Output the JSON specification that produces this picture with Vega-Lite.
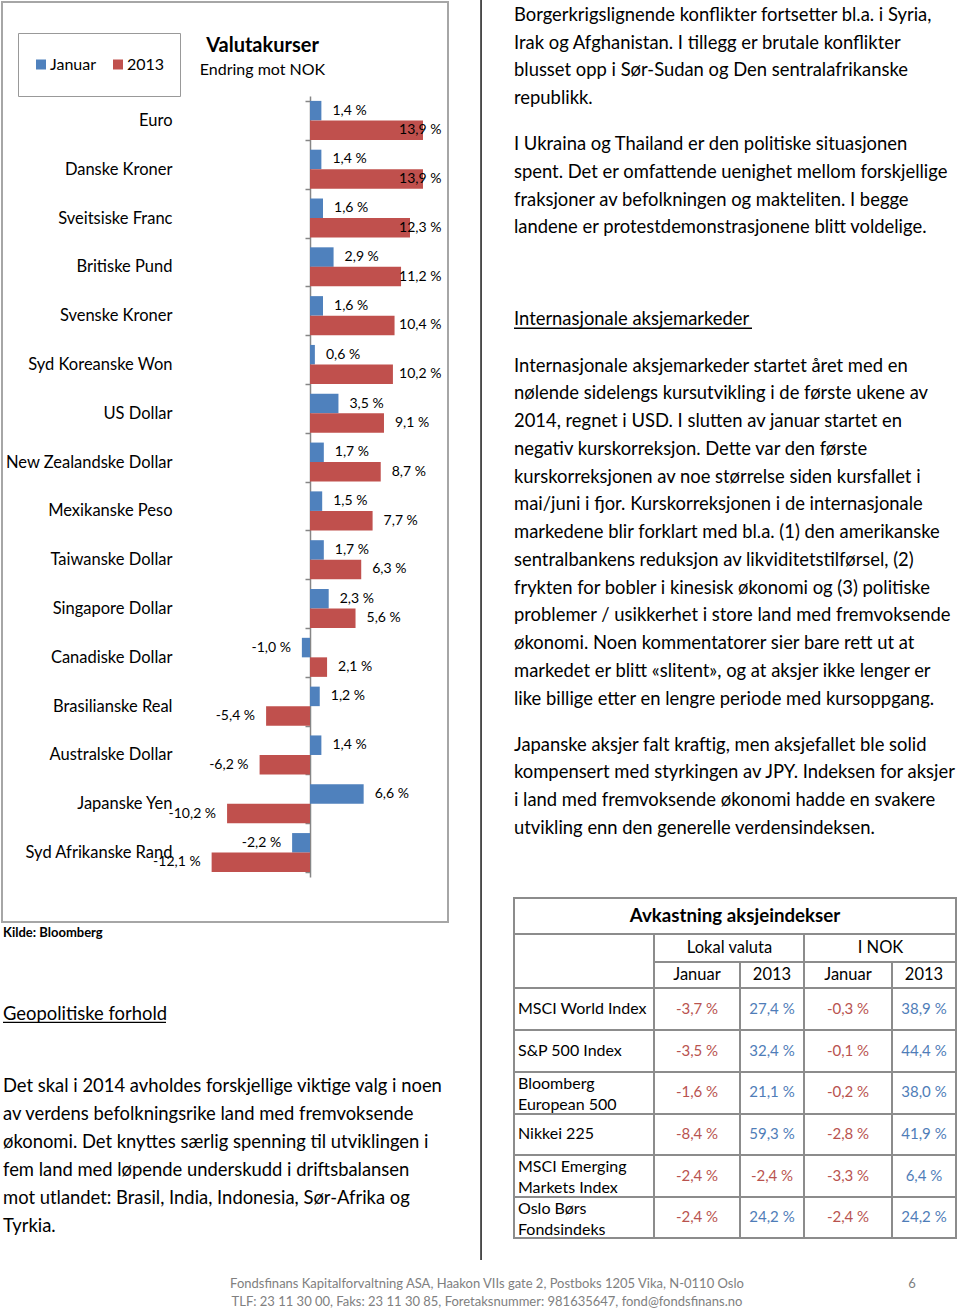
{
  "$schema": "https://vega.github.io/schema/vega-lite/v6.json",
  "width": 960,
  "height": 1309,
  "autosize": {"type": "none"},
  "padding": 0,
  "background": "white",
  "config": {
    "view": {"stroke": null},
    "font": "Lato",
    "locale": {
      "number": {"decimal": ",", "thousands": " ", "grouping": [3], "currency": ["", " kr"], "percent": " %", "minus": "-"}
    }
  },
  "title": {
    "text": "Valutakurser",
    "subtitle": "Endring mot NOK",
    "anchor": "middle",
    "frame": "group",
    "dx": -217.5,
    "dy": 86,
    "offset": 0,
    "font": "Lato",
    "fontSize": 20,
    "fontWeight": "bold",
    "color": "#000000",
    "subtitleFont": "Lato",
    "subtitleFontSize": 16,
    "subtitleColor": "#000000",
    "subtitlePadding": 6
  },
  "resolve": {
    "scale": {"x": "independent", "y": "independent", "yOffset": "independent", "color": "independent"},
    "axis": {"x": "independent", "y": "independent"}
  },
  "layer": [
    {
      "data": {"values": [{"ramme": "Valutakurser"}]},
      "mark": {"type": "rect", "fillOpacity": 0, "stroke": "#a6a6a6", "strokeWidth": 2},
      "encoding": {
        "x": {"field": "ramme", "type": "nominal", "scale": {"type": "band", "range": [2, 448], "paddingInner": 0, "paddingOuter": 0}, "axis": null},
        "y": {"field": "ramme", "type": "nominal", "scale": {"type": "band", "range": [2, 922], "paddingInner": 0, "paddingOuter": 0}, "axis": null}
      }
    },
    {
      "data": {"values": [{"skille": "spalter"}]},
      "mark": {"type": "rect", "color": "#1a1a1a"},
      "encoding": {
        "x": {"field": "skille", "type": "nominal", "scale": {"type": "band", "range": [480.3, 481.8], "paddingInner": 0, "paddingOuter": 0}, "axis": null},
        "y": {"field": "skille", "type": "nominal", "scale": {"type": "band", "range": [0, 1260], "paddingInner": 0, "paddingOuter": 0}, "axis": null}
      }
    },
    {
      "data": {"values": [
        {"valuta": "Euro", "Januar": 0.014, "2013": 0.139},
        {"valuta": "Danske Kroner", "Januar": 0.014, "2013": 0.139},
        {"valuta": "Sveitsiske Franc", "Januar": 0.016, "2013": 0.123},
        {"valuta": "Britiske Pund", "Januar": 0.029, "2013": 0.112},
        {"valuta": "Svenske Kroner", "Januar": 0.016, "2013": 0.104},
        {"valuta": "Syd Koreanske Won", "Januar": 0.006, "2013": 0.102},
        {"valuta": "US Dollar", "Januar": 0.035, "2013": 0.091},
        {"valuta": "New Zealandske Dollar", "Januar": 0.017, "2013": 0.087},
        {"valuta": "Mexikanske Peso", "Januar": 0.015, "2013": 0.077},
        {"valuta": "Taiwanske Dollar", "Januar": 0.017, "2013": 0.063},
        {"valuta": "Singapore Dollar", "Januar": 0.023, "2013": 0.056},
        {"valuta": "Canadiske Dollar", "Januar": -0.010, "2013": 0.021},
        {"valuta": "Brasilianske Real", "Januar": 0.012, "2013": -0.054},
        {"valuta": "Australske Dollar", "Januar": 0.014, "2013": -0.062},
        {"valuta": "Japanske Yen", "Januar": 0.066, "2013": -0.102},
        {"valuta": "Syd Afrikanske Rand", "Januar": -0.022, "2013": -0.121}
      ]},
      "transform": [{"fold": ["Januar", "2013"], "as": ["periode", "endring"]}],
      "encoding": {
        "y": {
          "field": "valuta",
          "type": "nominal",
          "scale": {
            "domain": ["Euro", "Danske Kroner", "Sveitsiske Franc", "Britiske Pund", "Svenske Kroner", "Syd Koreanske Won", "US Dollar", "New Zealandske Dollar", "Mexikanske Peso", "Taiwanske Dollar", "Singapore Dollar", "Canadiske Dollar", "Brasilianske Real", "Australske Dollar", "Japanske Yen", "Syd Afrikanske Rand"],
            "range": [96, 877],
            "paddingInner": 0.2,
            "paddingOuter": 0.1
          },
          "axis": {
            "orient": "left",
            "offset": -310,
            "title": null,
            "grid": false,
            "domainColor": "#868686",
            "domainWidth": 1.5,
            "tickColor": "#868686",
            "tickWidth": 1.5,
            "tickSize": 5,
            "tickBand": "extent",
            "labelPadding": 133,
            "labelFont": "Lato",
            "labelFontSize": 16.5,
            "labelColor": "#000000",
            "labelLimit": 300
          }
        },
        "yOffset": {"field": "periode", "type": "nominal", "scale": {"domain": ["Januar", "2013"], "paddingInner": 0, "paddingOuter": 0}}
      },
      "layer": [
        {
          "mark": {"type": "bar"},
          "encoding": {
            "x": {"field": "endring", "type": "quantitative", "scale": {"domain": [-0.15, 0.15], "range": [188.05, 431.95], "zero": false, "nice": false}, "axis": null},
            "color": {
              "field": "periode",
              "type": "nominal",
              "scale": {"domain": ["Januar", "2013"], "range": ["#4F81BD", "#C0504D"]},
              "legend": {
                "orient": "none",
                "legendX": 18,
                "legendY": 33,
                "direction": "horizontal",
                "title": null,
                "symbolType": "square",
                "symbolSize": 100,
                "symbolStrokeWidth": 0,
                "labelFont": "Lato",
                "labelFontSize": 16,
                "labelColor": "#000000",
                "labelOffset": 1,
                "columnPadding": 13,
                "padding": 15,
                "clipHeight": 33,
                "strokeColor": "#999999"
              }
            }
          }
        },
        {
          "transform": [{"filter": "datum.endring >= 0"}],
          "mark": {"type": "text", "align": "left", "baseline": "middle", "dx": 11, "font": "Lato", "fontSize": 14, "color": "#000000"},
          "encoding": {
            "x": {"field": "endring", "type": "quantitative", "scale": {"domain": [-0.15, 0.096], "range": [188.05, 388.05], "clamp": true, "zero": false, "nice": false}, "axis": null},
            "text": {"field": "endring", "type": "quantitative", "format": ".1%"}
          }
        },
        {
          "transform": [{"filter": "datum.endring < 0"}],
          "mark": {"type": "text", "align": "right", "baseline": "middle", "dx": -11, "font": "Lato", "fontSize": 14, "color": "#000000"},
          "encoding": {
            "x": {"field": "endring", "type": "quantitative", "scale": {"domain": [-0.15, 0.15], "range": [188.05, 431.95], "zero": false, "nice": false}, "axis": null},
            "text": {"field": "endring", "type": "quantitative", "format": ".1%"}
          }
        }
      ],
      "resolve": {"scale": {"x": "independent"}}
    },
    {
      "data": {"values": [{"kilde": "Kilde: Bloomberg"}]},
      "mark": {"type": "text", "align": "left", "baseline": "middle", "font": "Lato", "fontSize": 13, "fontWeight": "bold", "color": "#000000"},
      "encoding": {
        "x": {"field": "kilde", "type": "nominal", "scale": {"type": "point", "range": [3, 3]}, "axis": null},
        "y": {"field": "kilde", "type": "nominal", "scale": {"type": "point", "range": [933, 933]}, "axis": null},
        "text": {"field": "kilde"}
      }
    },
    {
      "data": {"values": [
        {"spalte": "høyre", "linje": 0, "tekst": "Borgerkrigslignende konflikter fortsetter bl.a. i Syria,"},
        {"spalte": "høyre", "linje": 1, "tekst": "Irak og Afghanistan. I tillegg er brutale konflikter"},
        {"spalte": "høyre", "linje": 2, "tekst": "blusset opp i Sør-Sudan og Den sentralafrikanske"},
        {"spalte": "høyre", "linje": 3, "tekst": "republikk."},
        {"spalte": "høyre", "linje": 4, "tekst": "I Ukraina og Thailand er den politiske situasjonen"},
        {"spalte": "høyre", "linje": 5, "tekst": "spent. Det er omfattende uenighet mellom forskjellige"},
        {"spalte": "høyre", "linje": 6, "tekst": "fraksjoner av befolkningen og makteliten. I begge"},
        {"spalte": "høyre", "linje": 7, "tekst": "landene er protestdemonstrasjonene blitt voldelige."},
        {"spalte": "høyre", "linje": 8, "tekst": "Internasjonale aksjemarkeder"},
        {"spalte": "høyre", "linje": 9, "tekst": "Internasjonale aksjemarkeder startet året med en"},
        {"spalte": "høyre", "linje": 10, "tekst": "nølende sidelengs kursutvikling i de første ukene av"},
        {"spalte": "høyre", "linje": 11, "tekst": "2014, regnet i USD. I slutten av januar startet en"},
        {"spalte": "høyre", "linje": 12, "tekst": "negativ kurskorreksjon. Dette var den første"},
        {"spalte": "høyre", "linje": 13, "tekst": "kurskorreksjonen av noe størrelse siden kursfallet i"},
        {"spalte": "høyre", "linje": 14, "tekst": "mai/juni i fjor. Kurskorreksjonen i de internasjonale"},
        {"spalte": "høyre", "linje": 15, "tekst": "markedene blir forklart med bl.a. (1) den amerikanske"},
        {"spalte": "høyre", "linje": 16, "tekst": "sentralbankens reduksjon av likviditetstilførsel, (2)"},
        {"spalte": "høyre", "linje": 17, "tekst": "frykten for bobler i kinesisk økonomi og (3) politiske"},
        {"spalte": "høyre", "linje": 18, "tekst": "problemer / usikkerhet i store land med fremvoksende"},
        {"spalte": "høyre", "linje": 19, "tekst": "økonomi. Noen kommentatorer sier bare rett ut at"},
        {"spalte": "høyre", "linje": 20, "tekst": "markedet er blitt «slitent», og at aksjer ikke lenger er"},
        {"spalte": "høyre", "linje": 21, "tekst": "like billige etter en lengre periode med kursoppgang."},
        {"spalte": "høyre", "linje": 22, "tekst": "Japanske aksjer falt kraftig, men aksjefallet ble solid"},
        {"spalte": "høyre", "linje": 23, "tekst": "kompensert med styrkingen av JPY. Indeksen for aksjer"},
        {"spalte": "høyre", "linje": 24, "tekst": "i land med fremvoksende økonomi hadde en svakere"},
        {"spalte": "høyre", "linje": 25, "tekst": "utvikling enn den generelle verdensindeksen."},
        {"spalte": "venstre", "linje": 26, "tekst": "Geopolitiske forhold"},
        {"spalte": "venstre", "linje": 27, "tekst": "Det skal i 2014 avholdes forskjellige viktige valg i noen"},
        {"spalte": "venstre", "linje": 28, "tekst": "av verdens befolkningsrike land med fremvoksende"},
        {"spalte": "venstre", "linje": 29, "tekst": "økonomi. Det knyttes særlig spenning til utviklingen i"},
        {"spalte": "venstre", "linje": 30, "tekst": "fem land med løpende underskudd i driftsbalansen"},
        {"spalte": "venstre", "linje": 31, "tekst": "mot utlandet: Brasil, India, Indonesia, Sør-Afrika og"},
        {"spalte": "venstre", "linje": 32, "tekst": "Tyrkia."}
      ]},
      "mark": {"type": "text", "align": "left", "baseline": "middle", "font": "Lato", "fontSize": 18.4, "color": "#000000"},
      "encoding": {
        "x": {"field": "spalte", "type": "nominal", "scale": {"type": "point", "domain": ["venstre", "høyre"], "range": [3, 514], "padding": 0}, "axis": null},
        "y": {"field": "linje", "type": "quantitative", "scale": {"domain": [0, 3, 4, 7, 8, 9, 21, 22, 25, 26, 27, 32], "range": [14.8, 98.05, 144.1, 227.35, 319.4, 365.5, 698.5, 744.55, 827.8, 1014, 1086, 1226], "zero": false, "nice": false}, "axis": null},
        "text": {"field": "tekst"}
      }
    },
    {
      "data": {"values": [{"overskrift": "Internasjonale aksjemarkeder"}]},
      "mark": {"type": "rect", "color": "#000000"},
      "encoding": {
        "x": {"field": "overskrift", "type": "nominal", "scale": {"type": "band", "range": [514, 752], "paddingInner": 0, "paddingOuter": 0}, "axis": null},
        "y": {"field": "overskrift", "type": "nominal", "scale": {"type": "band", "range": [327.6, 328.9], "paddingInner": 0, "paddingOuter": 0}, "axis": null}
      }
    },
    {
      "data": {"values": [{"overskrift": "Geopolitiske forhold"}]},
      "mark": {"type": "rect", "color": "#000000"},
      "encoding": {
        "x": {"field": "overskrift", "type": "nominal", "scale": {"type": "band", "range": [3, 166], "paddingInner": 0, "paddingOuter": 0}, "axis": null},
        "y": {"field": "overskrift", "type": "nominal", "scale": {"type": "band", "range": [1021.7, 1023], "paddingInner": 0, "paddingOuter": 0}, "axis": null}
      }
    },
    {
      "data": {"values": [
        {"del": "tittel", "r0": 0, "r1": 1, "c0": 0, "c1": 5},
        {"del": "tom", "r0": 1, "r1": 3, "c0": 0, "c1": 1},
        {"del": "Lokal valuta", "r0": 1, "r1": 2, "c0": 1, "c1": 3},
        {"del": "I NOK", "r0": 1, "r1": 2, "c0": 3, "c1": 5},
        {"del": "Lokal Januar", "r0": 2, "r1": 3, "c0": 1, "c1": 2},
        {"del": "Lokal 2013", "r0": 2, "r1": 3, "c0": 2, "c1": 3},
        {"del": "NOK Januar", "r0": 2, "r1": 3, "c0": 3, "c1": 4},
        {"del": "NOK 2013", "r0": 2, "r1": 3, "c0": 4, "c1": 5},
        {"del": "kolonne indeks", "r0": 3, "r1": 9, "c0": 0, "c1": 1},
        {"del": "kolonne 1", "r0": 3, "r1": 9, "c0": 1, "c1": 2},
        {"del": "kolonne 2", "r0": 3, "r1": 9, "c0": 2, "c1": 3},
        {"del": "kolonne 3", "r0": 3, "r1": 9, "c0": 3, "c1": 4},
        {"del": "kolonne 4", "r0": 3, "r1": 9, "c0": 4, "c1": 5},
        {"del": "rad 1", "r0": 3, "r1": 4, "c0": 0, "c1": 5},
        {"del": "rad 2", "r0": 4, "r1": 5, "c0": 0, "c1": 5},
        {"del": "rad 3", "r0": 5, "r1": 6, "c0": 0, "c1": 5},
        {"del": "rad 4", "r0": 6, "r1": 7, "c0": 0, "c1": 5},
        {"del": "rad 5", "r0": 7, "r1": 8, "c0": 0, "c1": 5},
        {"del": "rad 6", "r0": 8, "r1": 9, "c0": 0, "c1": 5}
      ]},
      "mark": {"type": "rect", "fillOpacity": 0, "stroke": "#8c8c8c", "strokeWidth": 2},
      "encoding": {
        "x": {"field": "c0", "type": "quantitative", "scale": {"domain": [0, 1, 2, 3, 4, 5], "range": [514, 654, 740, 804, 892, 956], "zero": false, "nice": false}, "axis": null},
        "x2": {"field": "c1"},
        "y": {"field": "r0", "type": "quantitative", "scale": {"domain": [0, 1, 2, 3, 4, 5, 6, 7, 8, 9], "range": [898, 934, 962, 988, 1030, 1072, 1114, 1155, 1197, 1238], "zero": false, "nice": false}, "axis": null},
        "y2": {"field": "r1"}
      }
    },
    {
      "data": {"values": [{"tittel": "Avkastning aksjeindekser"}]},
      "mark": {"type": "text", "align": "center", "baseline": "middle", "font": "Lato", "fontSize": 18.7, "fontWeight": "bold", "color": "#000000"},
      "encoding": {
        "x": {"field": "tittel", "type": "nominal", "scale": {"type": "band", "range": [514, 956], "paddingInner": 0, "paddingOuter": 0}, "axis": null},
        "y": {"field": "tittel", "type": "nominal", "scale": {"type": "band", "range": [898, 934], "paddingInner": 0, "paddingOuter": 0}, "axis": null},
        "text": {"field": "tittel"}
      }
    },
    {
      "data": {"values": [{"valuta": "Lokal valuta"}, {"valuta": "I NOK"}]},
      "mark": {"type": "text", "align": "center", "baseline": "middle", "font": "Lato", "fontSize": 16.5, "color": "#000000"},
      "encoding": {
        "x": {"field": "valuta", "type": "nominal", "scale": {"type": "band", "domain": ["Lokal valuta", "I NOK"], "range": [654, 956], "paddingInner": 0, "paddingOuter": 0}, "axis": null},
        "y": {"field": "valuta", "type": "nominal", "scale": {"type": "point", "range": [948, 948]}, "axis": null},
        "text": {"field": "valuta"}
      }
    },
    {
      "data": {"values": [
        {"kol": 1, "periode": "Januar"},
        {"kol": 2, "periode": "2013"},
        {"kol": 3, "periode": "Januar"},
        {"kol": 4, "periode": "2013"}
      ]},
      "mark": {"type": "text", "align": "center", "baseline": "middle", "font": "Lato", "fontSize": 16.5, "color": "#000000"},
      "encoding": {
        "x": {"field": "kol", "type": "quantitative", "scale": {"domain": [1, 2, 3, 4], "range": [697, 772, 848, 924], "zero": false, "nice": false}, "axis": null},
        "y": {"field": "periode", "type": "nominal", "scale": {"type": "point", "range": [975, 975]}, "axis": null},
        "text": {"field": "periode"}
      }
    },
    {
      "data": {"name": "indekser", "values": [
        {"indeks": "MSCI World Index", "etikett": ["MSCI World Index"]},
        {"indeks": "S&P 500 Index", "etikett": ["S&P 500 Index"]},
        {"indeks": "Bloomberg European 500", "etikett": ["Bloomberg", "European 500"]},
        {"indeks": "Nikkei 225", "etikett": ["Nikkei 225"]},
        {"indeks": "MSCI Emerging Markets Index", "etikett": ["MSCI Emerging", "Markets Index"]},
        {"indeks": "Oslo Børs Fondsindeks", "etikett": ["Oslo Børs", "Fondsindeks"]}
      ]},
      "encoding": {
        "x": {"field": "indeks", "type": "nominal", "scale": {"type": "point", "range": [518, 518]}, "axis": null},
        "y": {"field": "indeks", "type": "nominal", "scale": {"type": "band", "domain": ["MSCI World Index", "S&P 500 Index", "Bloomberg European 500", "Nikkei 225", "MSCI Emerging Markets Index", "Oslo Børs Fondsindeks"], "range": [988, 1238], "paddingInner": 0, "paddingOuter": 0}, "axis": null},
        "text": {"field": "etikett"}
      },
      "layer": [
        {
          "transform": [{"filter": "length(datum.etikett) == 1"}],
          "mark": {"type": "text", "align": "left", "baseline": "middle", "font": "Lato", "fontSize": 16, "color": "#000000"}
        },
        {
          "transform": [{"filter": "length(datum.etikett) > 1"}],
          "mark": {"type": "text", "align": "left", "baseline": "middle", "dy": -8.5, "lineHeight": 21, "font": "Lato", "fontSize": 16, "color": "#000000"}
        }
      ]
    },
    {
      "data": {"values": [
        {"indeks": "MSCI World Index", "kol": 1, "valuta": "Lokal valuta", "periode": "Januar", "avkastning": -0.037},
        {"indeks": "MSCI World Index", "kol": 2, "valuta": "Lokal valuta", "periode": "2013", "avkastning": 0.274},
        {"indeks": "MSCI World Index", "kol": 3, "valuta": "I NOK", "periode": "Januar", "avkastning": -0.003},
        {"indeks": "MSCI World Index", "kol": 4, "valuta": "I NOK", "periode": "2013", "avkastning": 0.389},
        {"indeks": "S&P 500 Index", "kol": 1, "valuta": "Lokal valuta", "periode": "Januar", "avkastning": -0.035},
        {"indeks": "S&P 500 Index", "kol": 2, "valuta": "Lokal valuta", "periode": "2013", "avkastning": 0.324},
        {"indeks": "S&P 500 Index", "kol": 3, "valuta": "I NOK", "periode": "Januar", "avkastning": -0.001},
        {"indeks": "S&P 500 Index", "kol": 4, "valuta": "I NOK", "periode": "2013", "avkastning": 0.444},
        {"indeks": "Bloomberg European 500", "kol": 1, "valuta": "Lokal valuta", "periode": "Januar", "avkastning": -0.016},
        {"indeks": "Bloomberg European 500", "kol": 2, "valuta": "Lokal valuta", "periode": "2013", "avkastning": 0.211},
        {"indeks": "Bloomberg European 500", "kol": 3, "valuta": "I NOK", "periode": "Januar", "avkastning": -0.002},
        {"indeks": "Bloomberg European 500", "kol": 4, "valuta": "I NOK", "periode": "2013", "avkastning": 0.380},
        {"indeks": "Nikkei 225", "kol": 1, "valuta": "Lokal valuta", "periode": "Januar", "avkastning": -0.084},
        {"indeks": "Nikkei 225", "kol": 2, "valuta": "Lokal valuta", "periode": "2013", "avkastning": 0.593},
        {"indeks": "Nikkei 225", "kol": 3, "valuta": "I NOK", "periode": "Januar", "avkastning": -0.028},
        {"indeks": "Nikkei 225", "kol": 4, "valuta": "I NOK", "periode": "2013", "avkastning": 0.419},
        {"indeks": "MSCI Emerging Markets Index", "kol": 1, "valuta": "Lokal valuta", "periode": "Januar", "avkastning": -0.024},
        {"indeks": "MSCI Emerging Markets Index", "kol": 2, "valuta": "Lokal valuta", "periode": "2013", "avkastning": -0.024},
        {"indeks": "MSCI Emerging Markets Index", "kol": 3, "valuta": "I NOK", "periode": "Januar", "avkastning": -0.033},
        {"indeks": "MSCI Emerging Markets Index", "kol": 4, "valuta": "I NOK", "periode": "2013", "avkastning": 0.064},
        {"indeks": "Oslo Børs Fondsindeks", "kol": 1, "valuta": "Lokal valuta", "periode": "Januar", "avkastning": -0.024},
        {"indeks": "Oslo Børs Fondsindeks", "kol": 2, "valuta": "Lokal valuta", "periode": "2013", "avkastning": 0.242},
        {"indeks": "Oslo Børs Fondsindeks", "kol": 3, "valuta": "I NOK", "periode": "Januar", "avkastning": -0.024},
        {"indeks": "Oslo Børs Fondsindeks", "kol": 4, "valuta": "I NOK", "periode": "2013", "avkastning": 0.242}
      ]},
      "mark": {"type": "text", "align": "center", "baseline": "middle", "font": "Lato", "fontSize": 15},
      "encoding": {
        "x": {"field": "kol", "type": "quantitative", "scale": {"domain": [1, 2, 3, 4], "range": [697, 772, 848, 924], "zero": false, "nice": false}, "axis": null},
        "y": {"field": "indeks", "type": "nominal", "scale": {"type": "band", "domain": ["MSCI World Index", "S&P 500 Index", "Bloomberg European 500", "Nikkei 225", "MSCI Emerging Markets Index", "Oslo Børs Fondsindeks"], "range": [988, 1238], "paddingInner": 0, "paddingOuter": 0}, "axis": null},
        "text": {"field": "avkastning", "type": "quantitative", "format": ".1%"},
        "color": {"condition": {"test": "datum.avkastning < 0", "value": "#B9534F"}, "value": "#4F7DB8"}
      }
    },
    {
      "data": {"values": [
        {"felt": "adresse", "linje": 0, "tekst": "Fondsfinans Kapitalforvaltning ASA, Haakon VIIs gate 2, Postboks 1205 Vika, N-0110 Oslo"},
        {"felt": "adresse", "linje": 1, "tekst": "TLF: 23 11 30 00, Faks: 23 11 30 85, Foretaksnummer: 981635647, fond@fondsfinans.no"},
        {"felt": "side", "linje": 0, "tekst": "6"}
      ]},
      "mark": {"type": "text", "align": "center", "baseline": "middle", "font": "Lato", "fontSize": 13, "color": "#808080"},
      "encoding": {
        "x": {"field": "felt", "type": "nominal", "scale": {"type": "point", "domain": ["adresse", "side"], "range": [487, 912], "padding": 0}, "axis": null},
        "y": {"field": "linje", "type": "quantitative", "scale": {"domain": [0, 1], "range": [1284, 1302], "zero": false, "nice": false}, "axis": null},
        "text": {"field": "tekst"}
      }
    }
  ]
}
